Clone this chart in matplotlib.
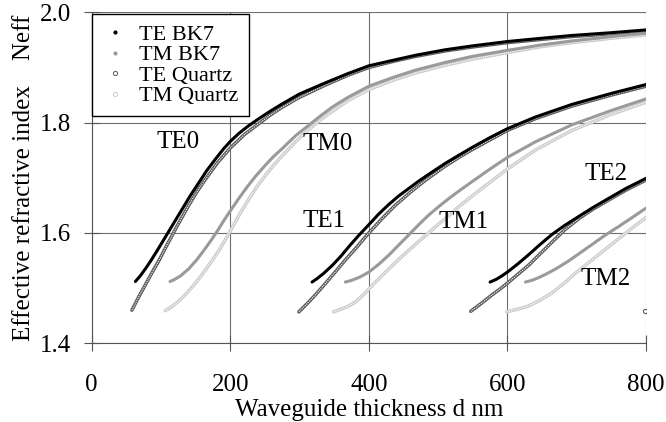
import matplotlib
matplotlib.use("Agg")
import matplotlib.pyplot as plt
from matplotlib.lines import Line2D

plt.rcParams['font.family'] = ['Liberation Serif', 'DejaVu Serif']
plt.rcParams['font.size'] = 18

# effective index vs. waveguide thickness (nm)
# mode 0
d_te_bk7_0 = [63, 70, 78, 85, 95, 106, 118, 130, 142, 154, 166, 178, 190, 200, 212, 225, 241, 258,
              275, 300, 337, 370, 400, 435, 467, 510, 549, 600, 650, 693, 750, 800]
n_te_bk7_0 = [1.512, 1.522, 1.536, 1.549, 1.569, 1.592, 1.617, 1.642, 1.667, 1.690, 1.713, 1.733,
              1.752, 1.766, 1.780, 1.793, 1.807, 1.821, 1.834, 1.852, 1.872, 1.889, 1.903, 1.913,
              1.922, 1.932, 1.939, 1.947, 1.953, 1.958, 1.963, 1.968]
d_te_qz_0 = [58, 67, 77, 87, 97, 109, 123, 140, 152, 164, 182, 200, 220, 241, 258, 275, 300, 337,
             370, 400, 435, 467, 510, 549, 600, 650, 693, 750, 800]
n_te_qz_0 = [1.460, 1.482, 1.505, 1.528, 1.550, 1.579, 1.612, 1.650, 1.675, 1.697, 1.728, 1.754,
             1.778, 1.798, 1.814, 1.828, 1.846, 1.868, 1.886, 1.900, 1.911, 1.920, 1.930, 1.937,
             1.945, 1.951, 1.956, 1.961, 1.966]
d_tm_bk7_0 = [113, 120, 128, 140, 152, 164, 173, 181, 190, 200, 212, 224, 236, 250, 262, 275, 294,
              313, 330, 347, 370, 400, 435, 467, 510, 549, 600, 650, 693, 750, 800]
n_tm_bk7_0 = [1.512, 1.516, 1.522, 1.535, 1.552, 1.572, 1.588, 1.603, 1.621, 1.640, 1.662, 1.683,
              1.702, 1.722, 1.738, 1.753, 1.776, 1.795, 1.812, 1.828, 1.846, 1.866, 1.882, 1.895,
              1.909, 1.920, 1.931, 1.941, 1.948, 1.956, 1.962]
d_tm_qz_0 = [106, 115, 125, 135, 147, 159, 171, 183, 193, 202, 214, 227, 238, 248, 262, 275, 294,
             313, 330, 347, 370, 400, 435, 467, 510, 549, 600, 650, 693, 750, 800]
n_tm_qz_0 = [1.459, 1.466, 1.476, 1.488, 1.505, 1.524, 1.545, 1.567, 1.588, 1.608, 1.635, 1.662,
             1.683, 1.700, 1.722, 1.740, 1.765, 1.787, 1.805, 1.820, 1.840, 1.860, 1.877, 1.890,
             1.904, 1.915, 1.927, 1.938, 1.945, 1.953, 1.959]
# mode 1
d_te_bk7_1 = [318, 325, 335, 347, 359, 371, 385, 400, 414, 429, 443, 458, 472, 486, 510, 530, 549,
              575, 600, 640, 693, 750, 800]
n_te_bk7_1 = [1.511, 1.517, 1.527, 1.541, 1.557, 1.575, 1.595, 1.615, 1.634, 1.652, 1.667, 1.681,
              1.694, 1.706, 1.726, 1.741, 1.755, 1.773, 1.789, 1.810, 1.833, 1.853, 1.869]
d_te_qz_1 = [299, 311, 323, 337, 352, 366, 381, 400, 419, 438, 460, 481, 510, 530, 549, 575, 600,
             640, 693, 750, 800]
n_te_qz_1 = [1.457, 1.472, 1.488, 1.508, 1.530, 1.551, 1.572, 1.600, 1.626, 1.650, 1.674, 1.695,
             1.721, 1.737, 1.751, 1.769, 1.786, 1.807, 1.830, 1.850, 1.866]
d_tm_bk7_1 = [366, 375, 387, 400, 414, 429, 443, 458, 472, 486, 500, 515, 530, 549, 575, 600, 640,
              693, 750, 800]
n_tm_bk7_1 = [1.511, 1.514, 1.520, 1.529, 1.543, 1.560, 1.578, 1.597, 1.615, 1.632, 1.647, 1.662,
              1.676, 1.693, 1.716, 1.737, 1.765, 1.796, 1.822, 1.843]
d_tm_qz_1 = [349, 360, 370, 381, 393, 405, 420, 438, 457, 477, 496, 515, 532, 549, 575, 600, 640,
             693, 750, 800]
n_tm_qz_1 = [1.457, 1.462, 1.467, 1.475, 1.489, 1.505, 1.524, 1.546, 1.568, 1.590, 1.611, 1.631,
             1.650, 1.667, 1.692, 1.716, 1.750, 1.786, 1.815, 1.837]
# mode 2
d_te_bk7_2 = [575, 584, 593, 602, 616, 631, 647, 664, 683, 703, 722, 741, 770, 800]
n_te_bk7_2 = [1.511, 1.516, 1.523, 1.531, 1.545, 1.561, 1.579, 1.597, 1.614, 1.630, 1.645, 1.659,
              1.680, 1.699]
d_te_qz_2 = [547, 562, 578, 590, 600, 615, 631, 647, 664, 683, 703, 722, 741, 770, 800]
n_te_qz_2 = [1.458, 1.472, 1.488, 1.499, 1.509, 1.525, 1.542, 1.562, 1.583, 1.606, 1.626, 1.642,
             1.656, 1.677, 1.696]
d_tm_bk7_2 = [626, 635, 645, 655, 670, 688, 705, 722, 741, 761, 780, 800]
n_tm_bk7_2 = [1.511, 1.514, 1.519, 1.525, 1.535, 1.549, 1.564, 1.579, 1.596, 1.612, 1.628, 1.645]
d_tm_qz_2 = [599, 612, 622, 631, 647, 664, 682, 700, 720, 740, 760, 780, 800]
n_tm_qz_2 = [1.457, 1.461, 1.464, 1.468, 1.478, 1.491, 1.509, 1.529, 1.549, 1.569, 1.589, 1.609,
             1.628]
# mode 3 just appears at the edge
d_te_qz_3 = [798]
n_te_qz_3 = [1.458]

mode_labels = ['TE0', 'TM0', 'TE1', 'TM1', 'TE2', 'TM2']
label_x = [125, 340, 335, 537, 742, 742]
label_y = [1.764, 1.761, 1.622, 1.619, 1.707, 1.517]

c_te_bk7 = 'black'
c_tm_bk7 = '#9a9a9a'
c_te_qz = '#5a5a5a'
c_tm_qz = '#cccccc'

fig = plt.figure(figsize=(6.66, 4.22), dpi=100)
ax = fig.add_axes([0.1377, 0.1865, 0.8323, 0.7844])


def tube(d, n, col):
    # chain of open circles -> coloured band with a broken white core
    ax.plot(d, n, color=col, lw=2.5, solid_capstyle='round', zorder=2)
    ax.plot(d, n, color='white', lw=0.8, ls=(0, (1.0, 0.9)), zorder=2.1)


for d, n in [(d_tm_qz_0, n_tm_qz_0), (d_tm_qz_1, n_tm_qz_1), (d_tm_qz_2, n_tm_qz_2)]:
    tube(d, n, c_tm_qz)
for d, n in [(d_te_qz_0, n_te_qz_0), (d_te_qz_1, n_te_qz_1), (d_te_qz_2, n_te_qz_2)]:
    tube(d, n, c_te_qz)
ax.plot(d_te_qz_3, n_te_qz_3, 'o', mfc='white', mec=c_te_qz, ms=3, mew=0.8, zorder=2)

for d, n in [(d_tm_bk7_0, n_tm_bk7_0), (d_tm_bk7_1, n_tm_bk7_1), (d_tm_bk7_2, n_tm_bk7_2)]:
    ax.plot(d, n, color=c_tm_bk7, lw=2.2, solid_capstyle='round', zorder=3)
for d, n in [(d_te_bk7_0, n_te_bk7_0), (d_te_bk7_1, n_te_bk7_1), (d_te_bk7_2, n_te_bk7_2)]:
    ax.plot(d, n, color=c_te_bk7, lw=2.2, solid_capstyle='round', zorder=3)

for lab, x, y in zip(mode_labels, label_x, label_y):
    ax.text(x, y, lab, ha='center', va='center', fontsize=18)

ax.set_xlim(0, 800)
ax.set_ylim(1.4, 2.0)
ax.set_xticks([0, 200, 400, 600, 800])
ax.set_yticks([1.4, 1.6, 1.8, 2.0])
ax.set_yticklabels(['1.4', '1.6', '1.8', '2.0'])
ax.grid(True, color='#6e6e6e', lw=0.8)
ax.set_axisbelow(True)
for s in ['top', 'right']:
    ax.spines[s].set_visible(False)
for s in ['left', 'bottom']:
    ax.spines[s].set_color('#555555')
    ax.spines[s].set_linewidth(0.8)
ax.tick_params(axis='both', direction='inout', length=12, width=0.8, color='#555555')
ax.tick_params(axis='x', pad=16)
ax.tick_params(axis='y', pad=8.5)

ax.set_xlabel('Waveguide thickness d nm', labelpad=2)
ax.set_ylabel('Effective refractive index    Neff', labelpad=4)

handles = [
    Line2D([], [], ls='none', marker='o', ms=2, color=c_te_bk7),
    Line2D([], [], ls='none', marker='o', ms=2, color=c_tm_bk7),
    Line2D([], [], ls='none', marker='o', ms=3, mfc='white', mec=c_te_qz, mew=0.7),
    Line2D([], [], ls='none', marker='o', ms=3, mfc='white', mec=c_tm_qz, mew=0.7),
]
leg = ax.legend(handles, ['TE BK7', 'TM BK7', 'TE Quartz', 'TM Quartz'],
                loc='upper left', bbox_to_anchor=(0.0, 0.994), borderaxespad=0,
                fancybox=False, framealpha=1, edgecolor='black', fontsize=16,
                labelspacing=0.0, handlelength=1.2, handletextpad=0.5,
                borderpad=0.45)
leg.get_frame().set_linewidth(1.0)

fig.savefig('out.png', dpi=100)
